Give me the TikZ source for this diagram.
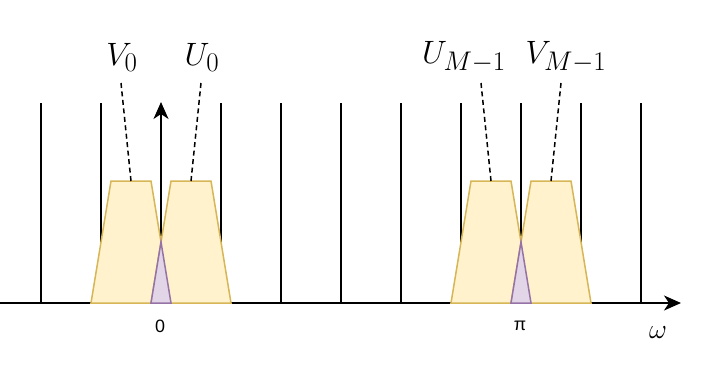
\documentclass[tikz,border=0pt]{standalone}
\usepackage{fontspec}
\newfontfamily\labfont{Liberation Sans}
\usetikzlibrary{arrows.meta}
\definecolor{yfill}{HTML}{FFF2CC}
\definecolor{ystroke}{HTML}{D6B656}
\definecolor{pfill}{HTML}{E1D5E7}
\definecolor{pstroke}{HTML}{9673A6}
\tikzset{
  axisline/.style={line width=2pt, -{Stealth[length=17pt,width=15pt,inset=5pt]}},
  tick/.style={line width=2pt},
  band/.style={fill=yfill, draw=ystroke, line width=1.5pt, line join=miter},
  overlap/.style={fill=pfill, draw=pstroke, line width=1.5pt},
  leader/.style={line width=1.5pt, dash pattern=on 5pt off 3.5pt},
  biglabel/.style={font=\Huge, scale=1.3, transform shape, inner sep=0pt, anchor=base},
  ticklabel/.style={font=\labfont\Huge, inner sep=0pt, scale=0.72, transform shape},
}
\begin{document}
\begin{tikzpicture}[x=1pt,y=-1pt]
\useasboundingbox (0,0) rectangle (722,380);
% axis
\coordinate (ax0) at (0,303);
\coordinate (ax1) at (681,303);
\draw[axisline] (ax0) -- (ax1);
% ticks
\foreach \x [count=\i] in {41,101,221,281,341,401,461,521,581,641}{
  \coordinate (tb\i) at (\x,303);
  \coordinate (tt\i) at (\x,103);
  \draw[tick] (tb\i) -- (tt\i);
}
% vertical arrow
\coordinate (va0) at (161,303);
\coordinate (va1) at (161,102);
\draw[axisline] (va0) -- (va1);
% bands
\foreach \c/\n in {91/a,151/b,451/c,511/d}{
  \path[band] (\c,303) -- (\c+20,181) -- (\c+60,181) -- (\c+80,303) -- cycle;
  \coordinate (top\n) at (\c+40,181);
}
\foreach \c in {151,511}{
  \path[overlap] (\c,303) -- (\c+10,242) -- (\c+20,303) -- cycle;
}
% labels
\node[biglabel] (V0) at (122,65) {$V_0$};
\node[biglabel] (U0) at (202,65) {$U_0$};
\node[biglabel] (UM) at (464,63) {$U_{M-1}$};
\node[biglabel] (VM) at (566,63) {$V_{M-1}$};
\coordinate (lV0) at (121,83);
\coordinate (lU0) at (201,83);
\coordinate (lUM) at (481,83);
\coordinate (lVM) at (561,83);
\draw[leader] (lV0) -- (topa);
\draw[leader] (lU0) -- (topb);
\draw[leader] (lUM) -- (topc);
\draw[leader] (lVM) -- (topd);
\node[ticklabel] (zero) at (160,326) {0};
\node[ticklabel] (pi) at (520,326) {π};
\node[font=\LARGE, scale=1.6, transform shape, inner sep=0pt] (om) at (658,333) {$\omega$};
\end{tikzpicture}
\end{document}
